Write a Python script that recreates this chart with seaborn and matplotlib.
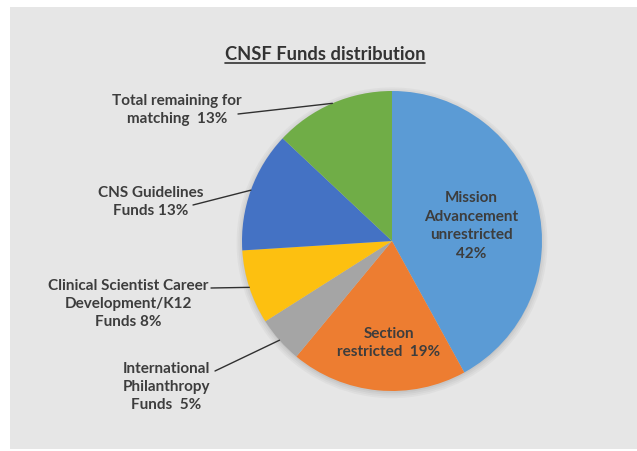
import numpy as np
import matplotlib
matplotlib.use("Agg")
import matplotlib.pyplot as plt
import seaborn as sns
from matplotlib.patches import Rectangle, Circle
from matplotlib.lines import Line2D

# ---- data ----
categories = [
    "Mission\nAdvancement\nunrestricted\n42%",
    "Section\nrestricted  19%",
    "International\nPhilanthropy\nFunds  5%",
    "Clinical Scientist Career\nDevelopment/K12\nFunds 8%",
    "CNS Guidelines\nFunds 13%",
    "Total remaining for\nmatching  13%",
]
values = [42, 19, 5, 8, 13, 13]
slice_colors = ["#5b9bd5", "#ed7d31", "#a5a5a5", "#fdc010", "#4472c4", "#70ad47"]
title = "CNSF Funds distribution"

sns.set_theme(style="white")
plt.rcParams["font.family"] = ["Lato", "DejaVu Sans"]

W, H = 637, 451
fig = plt.figure(figsize=(W / 100, H / 100), dpi=100, facecolor="white")

# gray panel
fig.add_artist(Rectangle((10 / W, 1 - 449 / H), (W - 10) / W, (449 - 7) / H,
                         transform=fig.transFigure, facecolor="#e6e6e6",
                         edgecolor="none", zorder=0))

cx, cy, r = 392, 241, 150
ax = fig.add_axes([(cx - r) / W, (H - cy - r) / H, 2 * r / W, 2 * r / H])
ax.set_facecolor("none")

# soft shadow below the pie
for k, a in enumerate([0.05, 0.05, 0.06, 0.07]):
    ax.add_patch(Circle((0, -0.012), 1.0 + 0.012 * (3 - k), color="#555555",
                        alpha=a, lw=0, zorder=0))

wedges, _ = ax.pie(values, colors=slice_colors, startangle=90, counterclock=False,
                   wedgeprops=dict(linewidth=0, zorder=2), radius=1.0)
ax.set_xlim(-1.05, 1.05)
ax.set_ylim(-1.05, 1.05)
ax.axis("off")
# keep radius at 150 px after enlarging limits
pos = ax.get_position()
scale = 1.05
ax.set_position([(cx - r * scale) / W, (H - cy - r * scale) / H,
                 2 * r * scale / W, 2 * r * scale / H])

txt_color = "#3d3d3d"
fs = 11

def fx(x):
    return x / W

def fy(y):
    return 1 - y / H

# inside labels
ax.text(0.53, 0.10, categories[0], ha="center", va="center", fontsize=fs,
        fontweight="bold", color=txt_color, linespacing=1.4)
ax.text(-0.02, -0.68, categories[1], ha="center", va="center", fontsize=fs,
        fontweight="bold", color=txt_color, linespacing=1.4)

# outside labels: (text center x, text center y, line start x, line start y)
outside = {
    2: (166, 387, 215, 371),
    3: (128, 304, 211, 288),
    4: (151, 202, 193, 205),
    5: (177, 110, 238, 114),
}
for i, (tx, ty, lx, ly) in outside.items():
    w = wedges[i]
    mid = np.deg2rad((w.theta1 + w.theta2) / 2)
    fig.text(fx(tx), fy(ty), categories[i], ha="center", va="center", fontsize=fs,
             fontweight="bold", color=txt_color, linespacing=1.4)
    ax.annotate("", xy=(np.cos(mid), np.sin(mid)), xycoords="data",
                xytext=(fx(lx), fy(ly)), textcoords="figure fraction",
                arrowprops=dict(arrowstyle="-", color="#303030", lw=1.0,
                                shrinkA=0, shrinkB=0))

# title with underline
t = fig.text(fx(325), fy(55), title, ha="center", va="center", fontsize=13.2,
             fontweight="bold", color="#333333")
fig.canvas.draw()
bb = t.get_window_extent().transformed(fig.transFigure.inverted())
fig.add_artist(Line2D([bb.x0, bb.x1], [bb.y0 + 0.002, bb.y0 + 0.002],
                      transform=fig.transFigure, color="#333333", lw=1.2))

fig.savefig("out.png", dpi=100, facecolor="white")
